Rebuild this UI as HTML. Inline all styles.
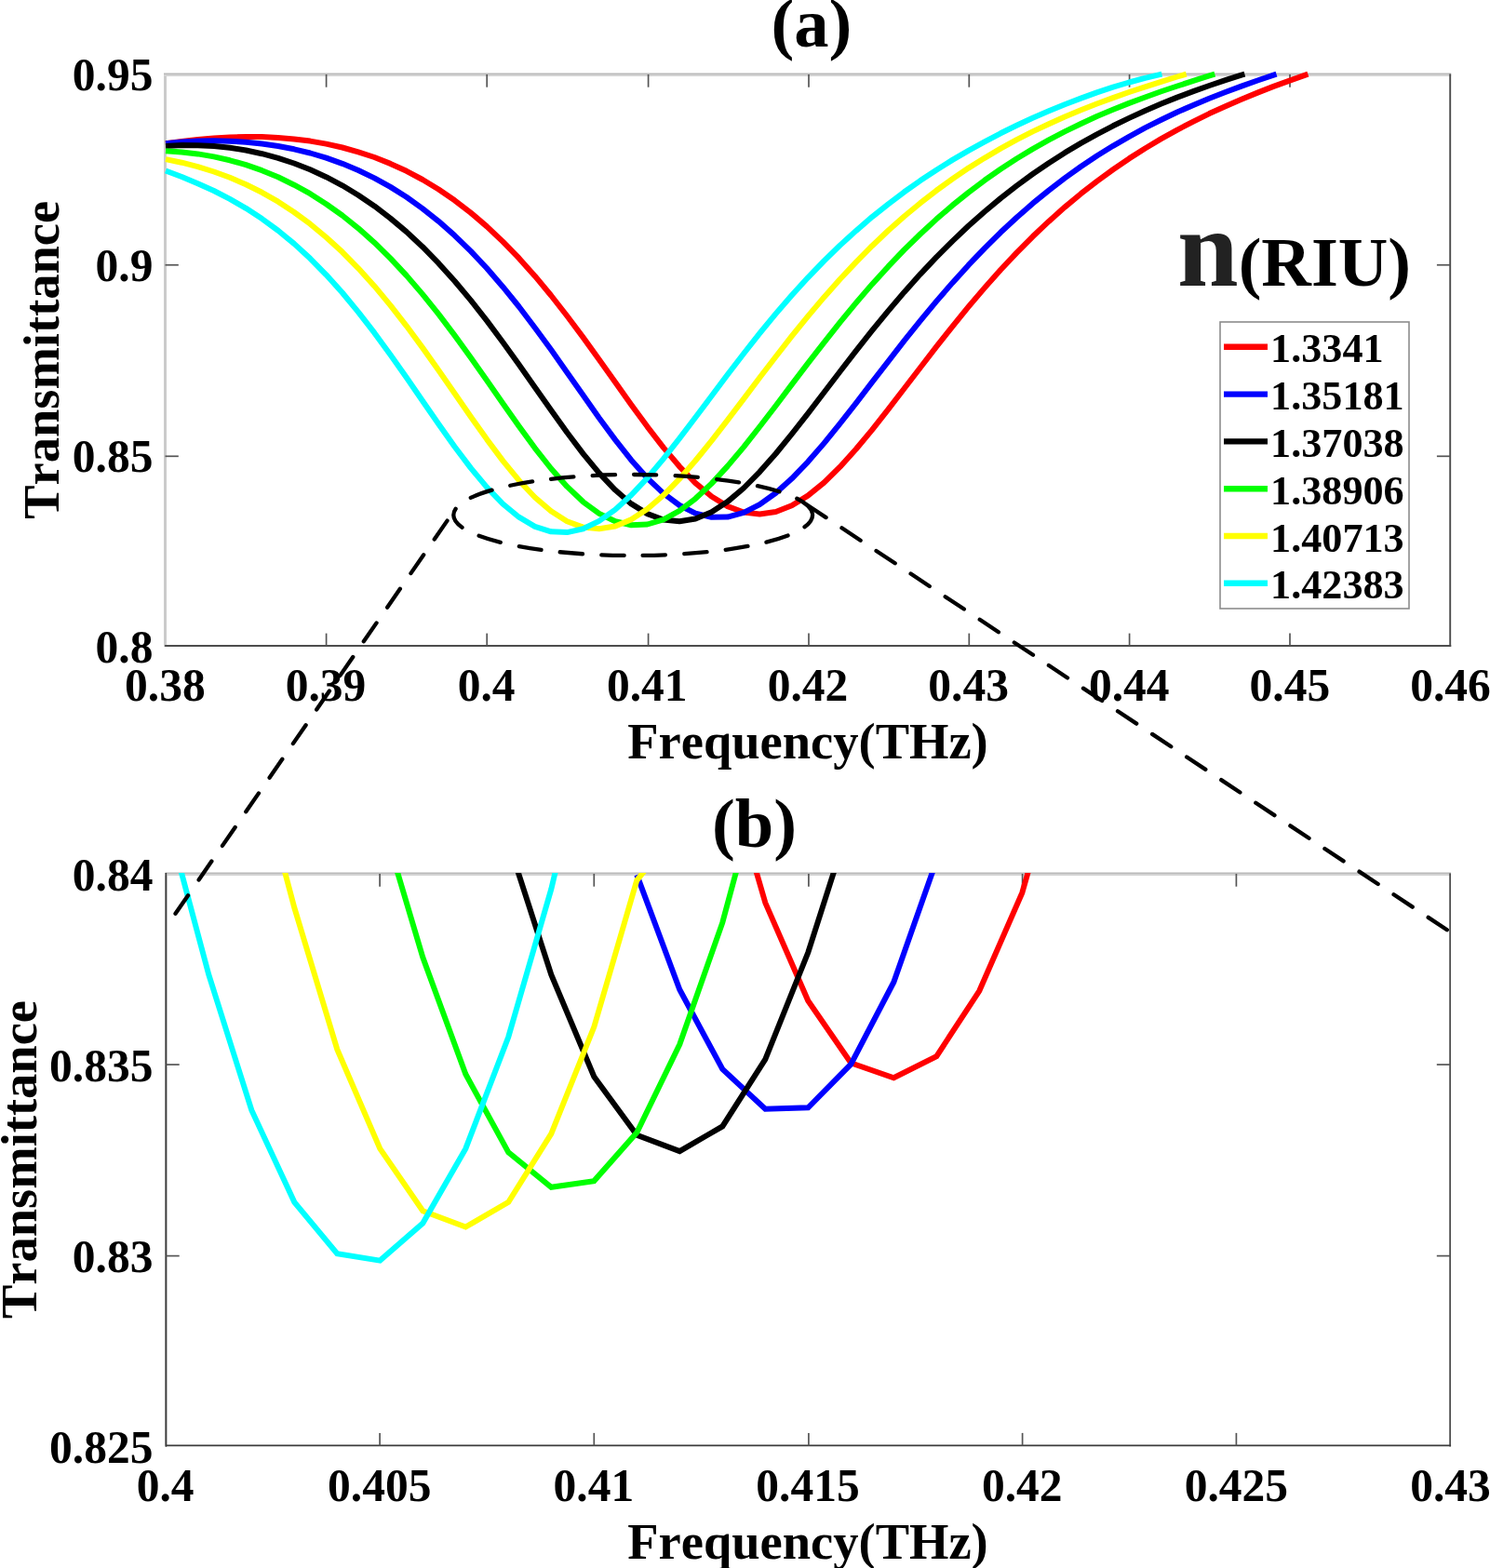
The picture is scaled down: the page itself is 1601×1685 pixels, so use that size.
<!DOCTYPE html>
<html lang="en"><head><meta charset="utf-8"><title>Transmittance vs Frequency</title>
<style>html,body{margin:0;padding:0;background:#fff;overflow:hidden}svg{display:block}text{font-family:'Liberation Serif', 'DejaVu Serif', serif;font-weight:bold;font-kerning:none;font-variant-ligatures:none;fill:#000}</style></head><body>
<svg width="1601" height="1685" viewBox="0 0 1601 1685">
<rect width="1601" height="1685" fill="#fff"/>
<defs><filter id="soft" x="0" y="0" width="100%" height="100%" filterUnits="userSpaceOnUse" color-interpolation-filters="sRGB"><feGaussianBlur stdDeviation="0.6"/></filter></defs>
<g id="figure" filter="url(#soft)">
<rect width="1601" height="1685" fill="#fff"/>
<defs><clipPath id="cb"><rect x="178.4" y="938.0" width="1379.6999999999998" height="615.4000000000001"/></clipPath></defs>
<g id="axes-a" fill="none">
<line x1="177.5" y1="79.0" x2="177.5" y2="695.1" stroke="#cbcbcb" stroke-width="3"/>
<line x1="176.0" y1="80.95" x2="1559.2" y2="80.95" stroke="#d3d3d3" stroke-width="2.3"/>
<line x1="176.0" y1="79.2" x2="1559.2" y2="79.2" stroke="#b9b9b9" stroke-width="1.5"/>
<line x1="177.1" y1="694.1" x2="1559.2" y2="694.1" stroke="#4d4d4d" stroke-width="2"/>
<line x1="1558.2" y1="79.5" x2="1558.2" y2="695.1" stroke="#4d4d4d" stroke-width="1.9"/>
<line x1="350.60" y1="694.1" x2="350.60" y2="680.6" stroke="#555555" stroke-width="1.7"/>
<line x1="350.60" y1="80.0" x2="350.60" y2="93.7" stroke="#555555" stroke-width="1.7"/>
<line x1="523.20" y1="694.1" x2="523.20" y2="680.6" stroke="#555555" stroke-width="1.7"/>
<line x1="523.20" y1="80.0" x2="523.20" y2="93.7" stroke="#555555" stroke-width="1.7"/>
<line x1="696.60" y1="694.1" x2="696.60" y2="680.6" stroke="#555555" stroke-width="1.7"/>
<line x1="696.60" y1="80.0" x2="696.60" y2="93.7" stroke="#555555" stroke-width="1.7"/>
<line x1="869.00" y1="694.1" x2="869.00" y2="680.6" stroke="#555555" stroke-width="1.7"/>
<line x1="869.00" y1="80.0" x2="869.00" y2="93.7" stroke="#555555" stroke-width="1.7"/>
<line x1="1041.30" y1="694.1" x2="1041.30" y2="680.6" stroke="#555555" stroke-width="1.7"/>
<line x1="1041.30" y1="80.0" x2="1041.30" y2="93.7" stroke="#555555" stroke-width="1.7"/>
<line x1="1213.60" y1="694.1" x2="1213.60" y2="680.6" stroke="#555555" stroke-width="1.7"/>
<line x1="1213.60" y1="80.0" x2="1213.60" y2="93.7" stroke="#555555" stroke-width="1.7"/>
<line x1="1386.00" y1="694.1" x2="1386.00" y2="680.6" stroke="#555555" stroke-width="1.7"/>
<line x1="1386.00" y1="80.0" x2="1386.00" y2="93.7" stroke="#555555" stroke-width="1.7"/>
<line x1="177.5" y1="284.75" x2="191.8" y2="284.75" stroke="#555555" stroke-width="1.7"/>
<line x1="1558.2" y1="284.75" x2="1543.9" y2="284.75" stroke="#555555" stroke-width="1.7"/>
<line x1="177.5" y1="490.30" x2="191.8" y2="490.30" stroke="#555555" stroke-width="1.7"/>
<line x1="1558.2" y1="490.30" x2="1543.9" y2="490.30" stroke="#555555" stroke-width="1.7"/>
</g>
<g id="curves-a" fill="none" stroke-width="6.0" stroke-linejoin="round">
<polyline stroke="#ff0000" points="178.0,154.3 195.3,151.9 212.5,149.9 229.8,148.4 247.0,147.4 264.3,147.0 281.5,147.1 298.8,147.9 316.0,149.4 333.3,151.6 350.5,154.6 367.8,158.5 385.0,163.3 402.3,169.0 419.5,175.9 436.8,183.8 454.0,193.0 471.3,203.5 488.5,215.3 505.8,228.6 523.1,243.4 540.3,259.6 557.6,277.4 574.8,296.7 592.1,317.5 609.3,339.5 626.6,362.6 643.8,386.5 661.1,410.8 678.3,435.0 695.6,458.6 712.8,480.9 730.1,501.3 747.3,519.1 764.6,533.5 781.8,544.1 799.1,550.5 816.3,552.5 833.6,550.0 850.8,543.3 868.1,532.6 885.4,518.6 902.6,501.7 919.9,482.5 937.1,461.8 954.4,439.9 971.6,417.5 988.9,395.0 1006.1,372.7 1023.4,350.8 1040.6,329.7 1057.9,309.4 1075.1,290.0 1092.4,271.6 1109.6,254.3 1126.9,237.9 1144.1,222.6 1161.4,208.2 1178.6,194.8 1195.9,182.2 1213.2,170.4 1230.4,159.5 1247.7,149.2 1264.9,139.6 1282.2,130.6 1299.4,122.1 1316.7,114.2 1333.9,106.7 1351.2,99.6 1368.4,92.9 1385.7,86.6 1405.4,79.6"/>
<polyline stroke="#0000ff" points="178.0,154.2 195.3,152.6 212.5,151.6 229.8,151.3 247.0,151.7 264.3,152.7 281.5,154.5 298.8,157.0 316.0,160.3 333.3,164.5 350.5,169.7 367.8,175.8 385.0,183.0 402.3,191.4 419.5,200.9 436.8,211.8 454.0,224.1 471.3,237.8 488.5,253.1 505.8,269.9 523.1,288.2 540.3,308.2 557.6,329.5 574.8,352.2 592.1,375.8 609.3,400.2 626.6,424.8 643.8,449.2 661.1,472.6 678.3,494.4 695.6,513.8 712.8,530.2 730.1,543.0 747.3,551.6 764.6,555.8 781.8,555.6 799.1,550.9 816.3,542.1 833.6,529.7 850.8,514.3 868.1,496.3 885.4,476.4 902.6,455.1 919.9,433.1 937.1,410.7 954.4,388.3 971.6,366.2 988.9,344.7 1006.1,323.9 1023.4,303.9 1040.6,284.9 1057.9,266.9 1075.1,249.8 1092.4,233.8 1109.6,218.7 1126.9,204.6 1144.1,191.4 1161.4,179.0 1178.6,167.5 1195.9,156.8 1213.2,146.8 1230.4,137.4 1247.7,128.7 1264.9,120.5 1282.2,112.9 1299.4,105.7 1316.7,99.0 1333.9,92.6 1351.2,86.5 1371.5,79.6"/>
<polyline stroke="#000000" points="178.0,157.0 195.3,156.1 212.5,156.2 229.8,157.0 247.0,158.8 264.3,161.5 281.5,165.2 298.8,169.8 316.0,175.5 333.3,182.3 350.5,190.2 367.8,199.3 385.0,209.7 402.3,221.4 419.5,234.6 436.8,249.1 454.0,265.2 471.3,282.9 488.5,302.0 505.8,322.6 523.1,344.6 540.3,367.7 557.6,391.7 574.8,416.2 592.1,440.8 609.3,464.8 626.6,487.6 643.8,508.4 661.1,526.6 678.3,541.4 695.6,552.1 712.8,558.5 730.1,560.3 747.3,557.5 764.6,550.3 781.8,539.1 799.1,524.5 816.3,507.1 833.6,487.5 850.8,466.4 868.1,444.4 885.4,421.8 902.6,399.2 919.9,376.9 937.1,355.1 954.4,334.1 971.6,313.9 988.9,294.6 1006.1,276.4 1023.4,259.1 1040.6,242.8 1057.9,227.5 1075.1,213.1 1092.4,199.6 1109.6,187.0 1126.9,175.2 1144.1,164.2 1161.4,153.9 1178.6,144.3 1195.9,135.3 1213.2,126.9 1230.4,119.0 1247.7,111.6 1264.9,104.6 1282.2,98.1 1299.4,92.0 1316.7,86.2 1333.9,80.7 1337.4,79.7"/>
<polyline stroke="#00ff00" points="178.0,162.2 195.3,163.4 212.5,165.4 229.8,168.4 247.0,172.3 264.3,177.2 281.5,183.2 298.8,190.3 316.0,198.7 333.3,208.2 350.5,219.2 367.8,231.5 385.0,245.3 402.3,260.7 419.5,277.6 436.8,296.1 454.0,316.1 471.3,337.6 488.5,360.4 505.8,384.2 523.1,408.8 540.3,433.5 557.6,458.0 574.8,481.6 592.1,503.5 609.3,522.9 626.6,539.3 643.8,551.9 661.1,560.3 678.3,564.2 695.6,563.5 712.8,558.3 730.1,548.9 747.3,535.8 764.6,519.6 781.8,500.9 799.1,480.4 816.3,458.5 833.6,436.0 850.8,413.1 868.1,390.4 885.4,368.1 902.6,346.3 919.9,325.4 937.1,305.4 954.4,286.4 971.6,268.4 988.9,251.5 1006.1,235.6 1023.4,220.7 1040.6,206.8 1057.9,193.8 1075.1,181.8 1092.4,170.5 1109.6,160.1 1126.9,150.4 1144.1,141.4 1161.4,133.0 1178.6,125.1 1195.9,117.8 1213.2,110.9 1230.4,104.5 1247.7,98.3 1264.9,92.5 1282.2,86.9 1299.4,81.4 1305.3,79.6"/>
<polyline stroke="#ffff00" points="178.0,171.1 195.3,174.7 212.5,179.1 229.8,184.5 247.0,190.8 264.3,198.2 281.5,206.8 298.8,216.7 316.0,228.0 333.3,240.7 350.5,255.0 367.8,270.8 385.0,288.3 402.3,307.4 419.5,328.1 436.8,350.3 454.0,373.6 471.3,398.0 488.5,422.8 505.8,447.7 523.1,472.1 540.3,495.1 557.6,516.2 574.8,534.5 592.1,549.3 609.3,560.2 626.6,566.6 643.8,568.3 661.1,565.5 678.3,558.2 695.6,547.0 712.8,532.3 730.1,514.7 747.3,495.0 764.6,473.7 781.8,451.4 799.1,428.6 816.3,405.8 833.6,383.2 850.8,361.2 868.1,339.9 885.4,319.4 902.6,300.0 919.9,281.6 937.1,264.2 954.4,247.8 971.6,232.5 988.9,218.2 1006.1,204.8 1023.4,192.3 1040.6,180.6 1057.9,169.8 1075.1,159.7 1092.4,150.2 1109.6,141.4 1126.9,133.2 1144.1,125.5 1161.4,118.3 1178.6,111.5 1195.9,105.1 1213.2,99.0 1230.4,93.3 1247.7,87.8 1264.9,82.5 1274.7,79.7"/>
<polyline stroke="#00ffff" points="178.0,183.5 195.3,190.0 212.5,197.2 229.8,205.0 247.0,213.9 264.3,223.8 281.5,235.1 298.8,247.7 316.0,261.9 333.3,277.8 350.5,295.3 367.8,314.5 385.0,335.3 402.3,357.7 419.5,381.2 436.8,405.7 454.0,430.8 471.3,455.7 488.5,480.0 505.8,502.9 523.1,523.7 540.3,541.5 557.6,555.7 574.8,565.8 592.1,571.3 609.3,572.1 626.6,568.2 643.8,559.9 661.1,547.6 678.3,532.0 695.6,513.6 712.8,493.1 730.1,471.2 747.3,448.5 764.6,425.5 781.8,402.5 799.1,380.0 816.3,358.2 833.6,337.2 850.8,317.2 868.1,298.3 885.4,280.4 902.6,263.6 919.9,247.9 937.1,233.1 954.4,219.3 971.6,206.3 988.9,194.1 1006.1,182.7 1023.4,171.9 1040.6,161.8 1057.9,152.3 1075.1,143.3 1092.4,134.8 1109.6,126.8 1126.9,119.3 1144.1,112.2 1161.4,105.6 1178.6,99.4 1195.9,93.7 1213.2,88.5 1230.4,83.8 1248.4,79.6"/>
</g>
<g id="axes-b" fill="none">
<line x1="178.4" y1="938.0" x2="178.4" y2="1554.4" stroke="#3c3c3c" stroke-width="1.6"/>
<line x1="177.6" y1="939.95" x2="1559.1" y2="939.95" stroke="#d3d3d3" stroke-width="2.3"/>
<line x1="177.6" y1="938.2" x2="1559.1" y2="938.2" stroke="#b9b9b9" stroke-width="1.5"/>
<line x1="178.4" y1="938.0" x2="178.4" y2="1554.4" stroke="#3c3c3c" stroke-width="1.6"/>
<line x1="178.0" y1="1553.4" x2="1559.1" y2="1553.4" stroke="#3c3c3c" stroke-width="1.8"/>
<line x1="1558.1" y1="938.5" x2="1558.1" y2="1554.4" stroke="#3c3c3c" stroke-width="1.6"/>
<line x1="408.10" y1="1553.4" x2="408.10" y2="1539.9" stroke="#555555" stroke-width="1.7"/>
<line x1="408.10" y1="939.0" x2="408.10" y2="952.7" stroke="#555555" stroke-width="1.7"/>
<line x1="638.30" y1="1553.4" x2="638.30" y2="1539.9" stroke="#555555" stroke-width="1.7"/>
<line x1="638.30" y1="939.0" x2="638.30" y2="952.7" stroke="#555555" stroke-width="1.7"/>
<line x1="868.90" y1="1553.4" x2="868.90" y2="1539.9" stroke="#555555" stroke-width="1.7"/>
<line x1="868.90" y1="939.0" x2="868.90" y2="952.7" stroke="#555555" stroke-width="1.7"/>
<line x1="1098.60" y1="1553.4" x2="1098.60" y2="1539.9" stroke="#555555" stroke-width="1.7"/>
<line x1="1098.60" y1="939.0" x2="1098.60" y2="952.7" stroke="#555555" stroke-width="1.7"/>
<line x1="1328.40" y1="1553.4" x2="1328.40" y2="1539.9" stroke="#555555" stroke-width="1.7"/>
<line x1="1328.40" y1="939.0" x2="1328.40" y2="952.7" stroke="#555555" stroke-width="1.7"/>
<line x1="178.4" y1="1144.05" x2="192.70000000000002" y2="1144.05" stroke="#555555" stroke-width="1.7"/>
<line x1="1558.1" y1="1144.05" x2="1543.8" y2="1144.05" stroke="#555555" stroke-width="1.7"/>
<line x1="178.4" y1="1349.60" x2="192.70000000000002" y2="1349.60" stroke="#555555" stroke-width="1.7"/>
<line x1="1558.1" y1="1349.60" x2="1543.8" y2="1349.60" stroke="#555555" stroke-width="1.7"/>
</g>
<g id="curves-b" fill="none" stroke-width="6.0" stroke-linejoin="miter" clip-path="url(#cb)">
<polyline stroke="#ff0000" points="776.3,811.6 822.3,970.1 868.3,1075.5 914.3,1142.3 960.3,1158.3 1006.3,1135.1 1052.3,1064.8 1098.3,959.4 1144.3,798.2"/>
<polyline stroke="#0000ff" points="684.3,940.1 730.3,1063.5 776.3,1149.0 822.3,1191.7 868.3,1190.3 914.3,1143.6 960.3,1055.5 1006.3,924.7"/>
<polyline stroke="#000000" points="546.3,905.0 592.3,1047.5 638.3,1157.0 684.3,1219.7 730.3,1237.1 776.3,1210.4 822.3,1138.3 868.3,1023.5 914.3,879.7"/>
<polyline stroke="#00ff00" points="408.3,874.2 454.3,1028.8 500.3,1154.3 546.3,1238.4 592.3,1275.8 638.3,1269.1 684.3,1217.0 730.3,1122.3 776.3,991.4 822.3,820.5"/>
<polyline stroke="#ffff00" points="270.3,802.9 316.3,975.4 362.3,1127.6 408.3,1234.4 454.3,1301.2 500.3,1318.5 546.3,1291.8 592.3,1218.4 638.3,1103.6 684.3,946.0 730.3,888.6"/>
<polyline stroke="#00ffff" points="178.3,875.4 224.3,1047.5 270.3,1193.0 316.3,1291.8 362.3,1347.1 408.3,1354.6 454.3,1314.5 500.3,1234.4 546.3,1114.2 592.3,955.4 638.3,762.1"/>
</g>
<g id="zoom-marker" fill="none" stroke="#000" stroke-width="4.3" stroke-linecap="round" stroke-dasharray="24.2 20.3">
<path d="M873.1,553.5 A192.9,43.5 0 0 0 487.30000000000007,553.5 A192.9,43.5 0 0 0 873.1,553.5" stroke-dashoffset="-1.5"/>
<line x1="480.5" y1="559.6" x2="188.5" y2="981.8"/>
<line x1="867.4" y1="542.7" x2="1555.8" y2="999.9"/>
</g>
<g id="legend">
<rect x="1311" y="346" width="203" height="308" fill="#fff" stroke="#8c8c8c" stroke-width="1.6"/>
<line x1="1315" y1="372.8" x2="1362" y2="372.8" stroke="#ff0000" stroke-width="6.4"/>
<text x="1365.1" y="389.3" font-size="44.2">1.3341</text>
<line x1="1315" y1="423.6" x2="1362" y2="423.6" stroke="#0000ff" stroke-width="6.4"/>
<text x="1365.1" y="440.1" font-size="44.2">1.35181</text>
<line x1="1315" y1="474.4" x2="1362" y2="474.4" stroke="#000000" stroke-width="6.4"/>
<text x="1365.1" y="490.9" font-size="44.2">1.37038</text>
<line x1="1315" y1="525.2" x2="1362" y2="525.2" stroke="#00ff00" stroke-width="6.4"/>
<text x="1365.1" y="541.7" font-size="44.2">1.38906</text>
<line x1="1315" y1="576.0" x2="1362" y2="576.0" stroke="#ffff00" stroke-width="6.4"/>
<text x="1365.1" y="592.5" font-size="44.2">1.40713</text>
<line x1="1315" y1="626.8" x2="1362" y2="626.8" stroke="#00ffff" stroke-width="6.4"/>
<text x="1365.1" y="643.3" font-size="44.2">1.42383</text>
</g>
<text x="1265" y="307" font-size="118"><tspan style="fill:#222">n</tspan><tspan font-size="74.2">(RIU)</tspan></text>
<g id="labels-a">
<text x="872" y="49.7" font-size="74.5" text-anchor="middle">(a)</text>
<text transform="translate(164.40 96.60) scale(0.9900 1.0000)" font-size="50.0" text-anchor="end">0.95</text>
<text transform="translate(164.40 302.20) scale(0.9900 1.0000)" font-size="50.0" text-anchor="end">0.9</text>
<text transform="translate(164.40 507.20) scale(0.9900 1.0000)" font-size="50.0" text-anchor="end">0.85</text>
<text transform="translate(164.40 712.20) scale(0.9900 1.0000)" font-size="50.0" text-anchor="end">0.8</text>
<text transform="translate(177.40 753.30) scale(0.9900 1.0000)" font-size="50.0" text-anchor="middle">0.38</text>
<text transform="translate(350.04 753.30) scale(0.9900 1.0000)" font-size="50.0" text-anchor="middle">0.39</text>
<text transform="translate(522.67 753.30) scale(0.9900 1.0000)" font-size="50.0" text-anchor="middle">0.4</text>
<text transform="translate(695.31 753.30) scale(0.9900 1.0000)" font-size="50.0" text-anchor="middle">0.41</text>
<text transform="translate(867.95 753.30) scale(0.9900 1.0000)" font-size="50.0" text-anchor="middle">0.42</text>
<text transform="translate(1040.59 753.30) scale(0.9900 1.0000)" font-size="50.0" text-anchor="middle">0.43</text>
<text transform="translate(1213.22 753.30) scale(0.9900 1.0000)" font-size="50.0" text-anchor="middle">0.44</text>
<text transform="translate(1385.86 753.30) scale(0.9900 1.0000)" font-size="50.0" text-anchor="middle">0.45</text>
<text transform="translate(1558.50 753.30) scale(0.9900 1.0000)" font-size="50.0" text-anchor="middle">0.46</text>
<text x="868" y="815" font-size="54.5" text-anchor="middle">Frequency(THz)</text>
<text transform="translate(62.9 386.8) rotate(-90)" font-size="54.5" text-anchor="middle">Transmittance</text>
</g>
<g id="labels-b">
<text x="810.5" y="909.8" font-size="74.5" text-anchor="middle">(b)</text>
<text transform="translate(164.40 956.50) scale(0.9900 1.0000)" font-size="50.0" text-anchor="end">0.84</text>
<text transform="translate(164.40 1162.10) scale(0.9900 1.0000)" font-size="50.0" text-anchor="end">0.835</text>
<text transform="translate(164.40 1367.10) scale(0.9900 1.0000)" font-size="50.0" text-anchor="end">0.83</text>
<text transform="translate(164.40 1572.10) scale(0.9900 1.0000)" font-size="50.0" text-anchor="end">0.825</text>
<text transform="translate(177.60 1613.20) scale(0.9900 1.0000)" font-size="50.0" text-anchor="middle">0.4</text>
<text transform="translate(407.75 1613.20) scale(0.9900 1.0000)" font-size="50.0" text-anchor="middle">0.405</text>
<text transform="translate(637.90 1613.20) scale(0.9900 1.0000)" font-size="50.0" text-anchor="middle">0.41</text>
<text transform="translate(868.05 1613.20) scale(0.9900 1.0000)" font-size="50.0" text-anchor="middle">0.415</text>
<text transform="translate(1098.20 1613.20) scale(0.9900 1.0000)" font-size="50.0" text-anchor="middle">0.42</text>
<text transform="translate(1328.35 1613.20) scale(0.9900 1.0000)" font-size="50.0" text-anchor="middle">0.425</text>
<text transform="translate(1558.50 1613.20) scale(0.9900 1.0000)" font-size="50.0" text-anchor="middle">0.43</text>
<text x="868" y="1675" font-size="54.5" text-anchor="middle">Frequency(THz)</text>
<text transform="translate(39 1246) rotate(-90)" font-size="54.5" text-anchor="middle">Transmittance</text>
</g>
</g>
</svg></body></html>
